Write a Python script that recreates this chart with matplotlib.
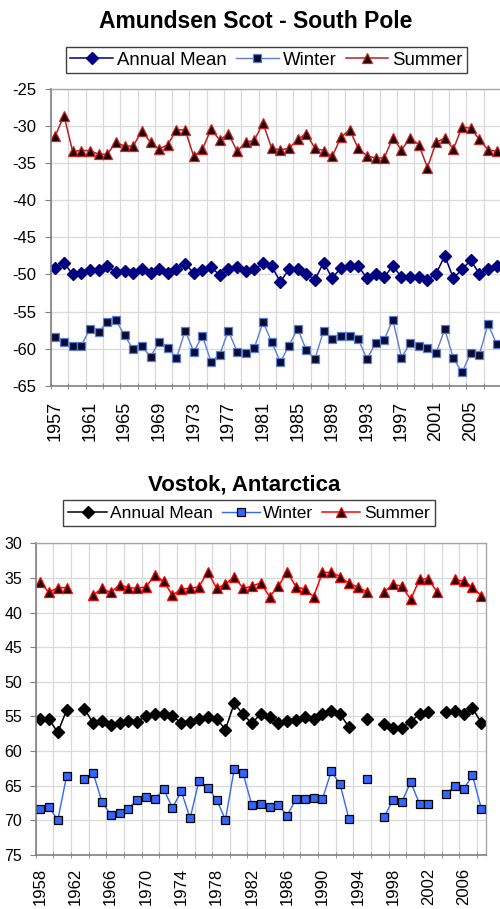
import numpy as np
import matplotlib
matplotlib.use('Agg')
import matplotlib.pyplot as plt

plt.rcParams['font.family'] = ['Liberation Sans', 'DejaVu Sans']

nan = np.nan

# Amundsen-Scott, 1957-2008
pole_years = list(range(1957, 2009))
pole_annual = [-49.1, -48.4, -50.0, -49.8, -49.4, -49.4, -48.9, -49.7, -49.5, -49.8,
               -49.3, -49.8, -49.3, -49.8, -49.3, -48.6, -49.8, -49.4, -49.0, -50.1,
               -49.3, -49.0, -49.5, -49.3, -48.5, -48.9, -51.0, -49.3, -49.3, -50.0,
               -50.7, -48.4, -50.5, -49.1, -48.8, -48.9, -50.5, -49.9, -50.4, -48.8,
               -50.4, -50.4, -50.4, -50.7, -49.9, -47.5, -50.5, -49.3, -48.1, -49.9,
               -49.3, -48.9]
pole_winter = [-58.5, -59.1, -59.6, -59.6, -57.3, -57.8, -56.4, -56.2, -58.2, -60.1,
               -59.7, -61.1, -59.1, -59.9, -61.3, -57.6, -60.4, -58.3, -61.8, -60.8,
               -57.6, -60.4, -60.6, -59.9, -56.4, -59.1, -61.8, -59.6, -57.3, -60.2,
               -61.4, -57.6, -58.7, -58.3, -58.3, -58.7, -61.4, -59.3, -58.8, -56.1,
               -61.2, -59.3, -59.6, -59.9, -60.6, -57.4, -61.3, -63.2, -60.6, -60.8,
               -56.7, -59.4]
pole_summer = [-31.3, -28.6, -33.4, -33.3, -33.3, -33.8, -33.8, -32.2, -32.7, -32.7,
               -30.6, -32.2, -33.1, -32.5, -30.5, -30.5, -34.1, -33.1, -30.4, -31.9,
               -31.0, -33.4, -32.2, -31.9, -29.6, -33.0, -33.2, -33.0, -31.8, -31.0,
               -33.0, -33.3, -34.1, -31.5, -30.5, -33.0, -34.0, -34.3, -34.3, -31.6,
               -33.2, -31.6, -32.5, -35.6, -32.2, -31.6, -33.1, -30.1, -30.3, -31.8,
               -33.2, -33.4]

# Vostok, 1958-2008 (gaps are missing years)
vostok_years = list(range(1958, 2009))
vostok_annual = [-55.3, -55.4, -57.3, -54.1, nan, -53.9, -55.9, -55.6, -56.3, -55.9,
                 -55.6, -55.8, -54.9, -54.7, -54.7, -55.0, -55.9, -55.8, -55.4, -55.1,
                 -55.3, -56.9, -53.1, -54.7, -56.0, -54.6, -55.1, -55.9, -55.7, -55.5,
                 -55.1, -55.4, -54.7, -54.2, -54.7, -56.5, nan, -55.4, nan, -56.1,
                 -56.6, -56.6, -55.8, -54.6, -54.4, nan, -54.4, -54.2, -54.7, -53.8,
                 -55.9]
vostok_winter = [-68.3, -68.0, -70.0, -63.6, nan, -64.1, -63.1, -67.3, -69.2, -69.0,
                 -68.3, -67.0, -66.6, -66.9, -65.5, -68.2, -65.8, -69.7, -64.3, -65.3,
                 -67.0, -69.9, -62.6, -63.2, -67.8, -67.6, -68.0, -67.8, -69.3, -66.9,
                 -66.9, -66.8, -66.9, -62.9, -64.8, -69.8, nan, -64.1, nan, -69.5,
                 -67.0, -67.3, -64.5, -67.6, -67.6, nan, -66.2, -65.0, -65.5, -63.5,
                 -68.3]
vostok_summer = [-35.6, -37.1, -36.4, -36.4, nan, nan, -37.5, -36.5, -37.1, -36.0,
                 -36.4, -36.5, -36.3, -34.6, -35.5, -37.5, -36.6, -36.5, -36.3, -34.1,
                 -36.5, -35.9, -34.8, -36.5, -36.2, -35.7, -37.7, -36.2, -34.1, -36.3,
                 -36.6, -37.7, -34.2, -34.2, -34.8, -35.8, -36.3, -37.0, nan, -37.0,
                 -35.9, -36.2, -38.1, -35.2, -35.1, -37.1, nan, -35.2, -35.5, -36.3,
                 -37.6]

W, H = 500, 909
fig = plt.figure(figsize=(W / 100, H / 100), dpi=100)


def frac_box(left, top, right, bottom):
    return [left / W, 1 - bottom / H, (right - left) / W, (bottom - top) / H]


def style_axes(ax, years, ylim, ytick_size, xtick_size, ypad, xpad, signed=True):
    n = len(years)
    x = np.arange(n)
    ticks = np.arange(ylim[0], ylim[1] + 1, 5)
    ax.set_xlim(-0.5, n - 0.5)
    ax.set_ylim(*ylim)
    ax.set_yticks(ticks)
    ax.set_yticklabels([f'{v:d}' if signed else f'{abs(v):d}' for v in ticks])
    ax.set_xticks(x[::4])
    ax.set_xticklabels([str(y) for y in years[::4]], rotation=90, va='top')
    ax.set_xticks(np.arange(-0.5, n, 2), minor=True)
    ax.tick_params(axis='x', which='major', length=0, pad=xpad, labelsize=xtick_size)
    ax.tick_params(axis='x', which='minor', length=5, direction='inout', color='#808080')
    ax.tick_params(axis='y', length=4, color='#808080', pad=ypad, labelsize=ytick_size)
    ax.grid(True, axis='x', which='minor', color='#D9D9D9', lw=0.9)
    ax.grid(True, axis='y', which='major', color='#D9D9D9', lw=0.9)
    ax.set_axisbelow(True)
    for side in ('left', 'bottom'):
        ax.spines[side].set_color('#808080')
        ax.spines[side].set_linewidth(1.2)
    for side in ('top', 'right'):
        ax.spines[side].set_color('#A6A6A6')
        ax.spines[side].set_linewidth(1.0)
    return x


# ---- Amundsen-Scott panel ----
ax1 = fig.add_axes(frac_box(51, 89, 501, 385.7))
x1 = style_axes(ax1, pole_years, (-65, -25), 12, 13, ypad=6.5, xpad=11)
ax1.plot(x1, pole_annual, '-D', color='#000080', lw=1.1, ms=6.5,
         mfc='#000080', mec='#000080', label='Annual Mean')
ax1.plot(x1, pole_winter, '-s', color='#5A7FD8', lw=1.0, ms=5.5,
         mfc='#0A0A30', mec='#5A7FD8', mew=0.9, label='Winter')
ax1.plot(x1, pole_summer, '-^', color='#B82020', lw=1.1, ms=6.5,
         mfc='#1A0000', mec='#D02020', mew=0.9, label='Summer')

fig.text(256 / W, 1 - 22 / H, 'Amundsen Scot - South Pole', ha='center', va='center',
         fontsize=16.5, fontweight='bold')
fig.legend(*ax1.get_legend_handles_labels(), loc='center', ncol=3,
           bbox_to_anchor=(266.5 / W, 1 - 60 / H), fontsize=13.4, frameon=True,
           fancybox=False, edgecolor='#404040', framealpha=1, handlelength=2.3,
           handletextpad=0.2, columnspacing=0.5, borderpad=0.25,
           borderaxespad=0)

# ---- Vostok panel ----
ax2 = fig.add_axes(frac_box(35.7, 543.3, 485.7, 855))
x2 = style_axes(ax2, vostok_years, (-75, -30), 11.5, 12, ypad=5.8, xpad=9.4,
                signed=False)
ax2.plot(x2, vostok_annual, '-D', color='#000000', lw=1.1, ms=6,
         mfc='#000000', mec='#000000', label='Annual Mean')
ax2.plot(x2, vostok_winter, '-s', color='#3366FF', lw=1.0, ms=6,
         mfc='#3366FF', mec='#000000', mew=0.9, label='Winter')
ax2.plot(x2, vostok_summer, '-^', color='#FF0000', lw=1.1, ms=6.5,
         mfc='#200000', mec='#FF0000', mew=0.9, label='Summer')

fig.text(244 / W, 1 - 485 / H, 'Vostok, Antarctica', ha='center', va='center',
         fontsize=16, fontweight='bold')
fig.legend(*ax2.get_legend_handles_labels(), loc='center', ncol=3,
           bbox_to_anchor=(249 / W, 1 - 513 / H), fontsize=12.5, frameon=True,
           fancybox=False, edgecolor='#404040', framealpha=1, handlelength=2.2,
           handletextpad=0.2, columnspacing=0.5, borderpad=0.3,
           borderaxespad=0)

fig.savefig('out.png', dpi=100)
